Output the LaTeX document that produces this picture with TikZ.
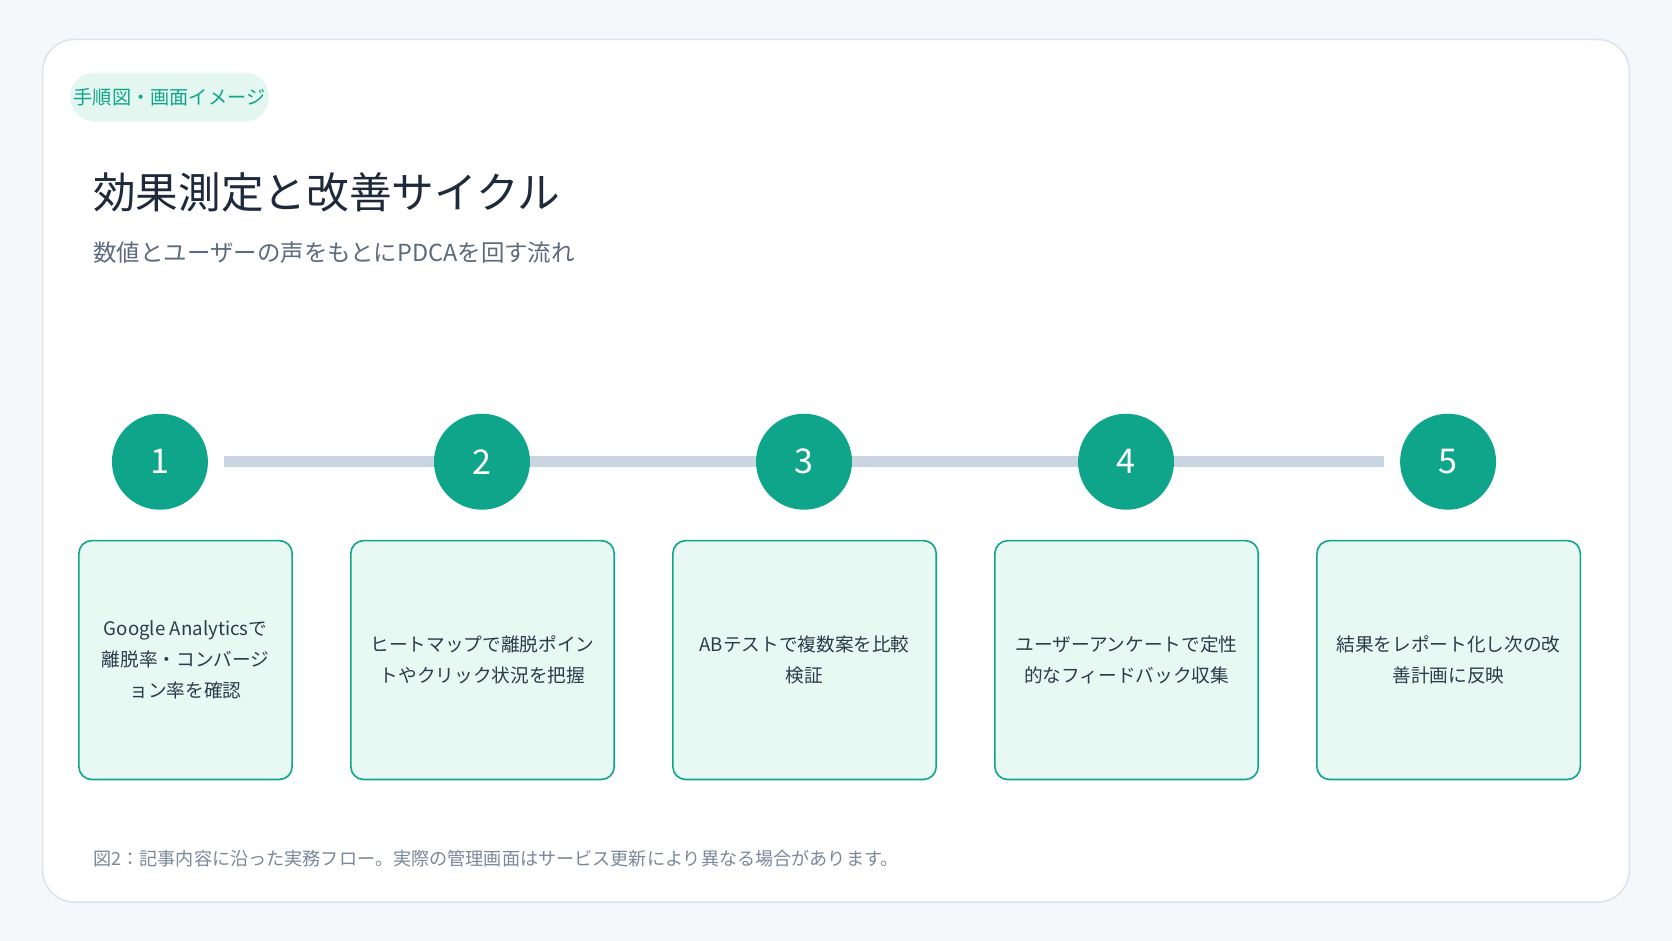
\documentclass[tikz,border=0pt]{standalone}
\usepackage{fontspec}
\setmainfont{Noto Sans CJK JP}
\definecolor{bg}{HTML}{F5F8FB}
\definecolor{cardb}{HTML}{DCE4EC}
\definecolor{teal}{HTML}{0EA58A}
\definecolor{mint}{HTML}{E8F8F3}
\definecolor{pill}{HTML}{E3F6F0}
\definecolor{navy}{HTML}{1E2A3B}
\definecolor{greyt}{HTML}{5B6B7E}
\definecolor{foot}{HTML}{7A8899}
\definecolor{linec}{HTML}{C9D6E2}
\definecolor{boxt}{HTML}{2D3B4A}
\begin{document}
\begin{tikzpicture}[x=1pt,y=-1pt,
  stepc/.style={circle,fill=teal,minimum size=90pt,inner sep=0,text=white,font=\fontsize{32}{32}\selectfont},
  box/.style={draw=teal,line width=1.5pt,fill=mint,rounded corners=12pt,inner sep=0,align=center,text=boxt,font=\fontsize{17.5}{29}\selectfont}]
\useasboundingbox (0,0) rectangle (1568,882);
\fill[bg] (0,0) rectangle (1568,882);
\draw[cardb,fill=white,line width=1.5pt,rounded corners=30pt] (40,37) rectangle (1528,846);
\node[fill=pill,rounded corners=23pt,minimum width=182pt,minimum height=46pt,text=teal,font=\fontsize{18}{18}\selectfont] (tag) at (159,91) {手順図・画面イメージ};
\node[anchor=west,text=navy,font=\fontsize{40}{40}\selectfont] (title) at (84,180) {効果測定と改善サイクル};
\node[anchor=west,text=greyt,font=\fontsize{22}{22}\selectfont] (sub) at (84,237) {数値とユーザーの声をもとにPDCAを回す流れ};
\coordinate (ls) at (210,433); \coordinate (le) at (1298,433);
\draw[linec,line width=10pt] (ls) -- (le);
\foreach \i/\x in {1/150,2/452,3/754,4/1056,5/1358}{\node[stepc] (c\i) at (\x,433) {\i};}
\node[box,minimum width=200pt,minimum height=224pt] (b1) at (174,619) {Google Analyticsで\\離脱率・コンバージ\\ョン率を確認};
\node[box,minimum width=247pt,minimum height=224pt] (b2) at (452.5,619) {ヒートマップで離脱ポイン\\トやクリック状況を把握};
\node[box,minimum width=247pt,minimum height=224pt] (b3) at (754.5,619) {ABテストで複数案を比較\\検証};
\node[box,minimum width=247pt,minimum height=224pt] (b4) at (1056.5,619) {ユーザーアンケートで定性\\的なフィードバック収集};
\node[box,minimum width=247pt,minimum height=224pt] (b5) at (1358.5,619) {結果をレポート化し次の改\\善計画に反映};
\node[anchor=west,text=foot,font=\fontsize{17}{17}\selectfont] (fn) at (84,805) {図2：記事内容に沿った実務フロー。実際の管理画面はサービス更新により異なる場合があります。};
\end{tikzpicture}
\end{document}
